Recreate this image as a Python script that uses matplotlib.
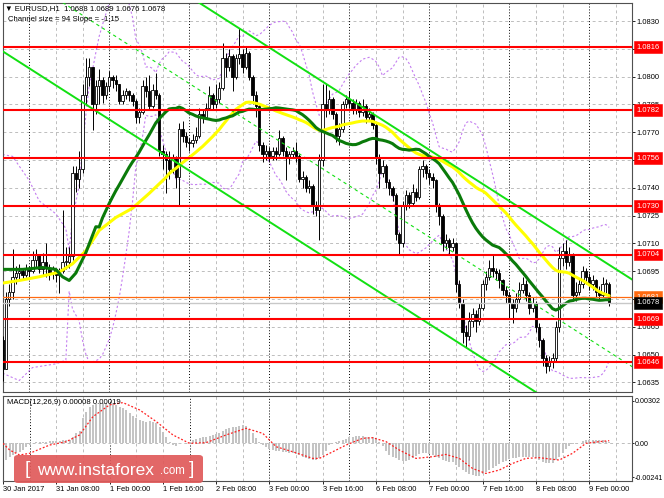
import numpy as np
import pandas as pd
import matplotlib
matplotlib.use("Agg")
import matplotlib.pyplot as plt
import matplotlib.transforms as mtransforms
from matplotlib.patches import FancyBboxPatch

plt.rcParams["font.family"] = ["Liberation Sans", "DejaVu Sans"]

W, H = 664, 498

# EURUSD H1 candles, prices stored as pips above 1.0600
BASE = 1.0600
PIP = 0.0001

first_open = 58
closes = [42, 80, 84, 92, 94, 95, 93, 96, 95, 101,
          104, 96, 100, 97, 94, 96, 93, 95, 100, 100,
          103, 148, 145, 150, 190, 200, 205, 185, 195, 198,
          190, 195, 200, 198, 196, 187, 190, 192, 190, 187,
          178, 181, 195, 192, 184, 193, 190, 160, 158, 155,
          150, 156, 146, 172, 168, 165, 164, 166, 168, 180,
          178, 183, 190, 185, 188, 194, 210, 205, 211, 200,
          210, 212, 205, 213, 200, 190, 184, 163, 158, 160,
          157, 160, 158, 167, 160, 156, 158, 160, 157, 145,
          146, 140, 141, 130, 128, 155, 185, 182, 188, 180,
          168, 172, 185, 188, 186, 182, 186, 181, 184, 178,
          180, 174, 156, 148, 152, 143, 140, 136, 115, 110,
          130, 136, 132, 138, 135, 150, 152, 148, 146, 144,
          130, 125, 110, 112, 108, 110, 88, 78, 62, 60,
          68, 72, 68, 75, 88, 92, 97, 95, 94, 90,
          85, 82, 78, 75, 80, 85, 88, 82, 75, 78,
          65, 58, 48, 44, 46, 48, 65, 102, 106, 100,
          104, 82, 84, 88, 95, 92, 88, 90, 84, 82,
          88, 88, 78]
highs = [60, 84, 88, 107, 98, 99, 97, 99, 98, 106,
         107, 104, 105, 110, 99, 98, 97, 97, 128, 108,
         108, 152, 152, 160, 196, 210, 210, 205, 198, 204,
         200, 197, 203, 201, 201, 196, 193, 194, 193, 191,
         188, 183, 198, 200, 201, 196, 202, 191, 163, 160,
         160, 158, 157, 175, 176, 170, 167, 169, 173, 183,
         182, 186, 195, 191, 196, 197, 218, 213, 215, 212,
         212, 226, 215, 216, 214, 201, 192, 185, 165, 163,
         162, 162, 162, 171, 168, 162, 160, 162, 165, 158,
         149, 147, 144, 142, 133, 158, 196, 196, 193, 189,
         181, 175, 187, 190, 192, 188, 188, 187, 188, 185,
         183, 181, 175, 158, 155, 153, 145, 141, 137, 116,
         133, 139, 138, 142, 140, 152, 155, 153, 150, 148,
         145, 132, 126, 115, 113, 113, 111, 90, 80, 66,
         73, 75, 74, 78, 90, 95, 101, 104, 97, 96,
         91, 87, 84, 80, 83, 89, 92, 90, 84, 81,
         79, 67, 59, 50, 49, 51, 68, 108, 110, 112,
         108, 105, 89, 91, 98, 97, 94, 93, 91, 87,
         92, 91, 89]
lows = [36, 42, 76, 80, 88, 90, 90, 92, 91, 94,
        97, 94, 93, 92, 90, 91, 89, 83, 94, 96,
        97, 101, 138, 140, 148, 185, 195, 171, 180, 185,
        186, 188, 192, 194, 192, 185, 185, 188, 187, 184,
        175, 175, 180, 189, 182, 183, 188, 157, 150, 137,
        145, 148, 140, 130, 165, 162, 160, 162, 164, 167,
        175, 177, 182, 182, 183, 186, 193, 200, 203, 192,
        199, 207, 202, 204, 198, 185, 178, 160, 154, 155,
        154, 155, 155, 157, 157, 144, 153, 156, 154, 143,
        140, 138, 137, 126, 125, 112, 152, 178, 180, 177,
        165, 163, 170, 183, 183, 180, 180, 178, 179, 175,
        176, 172, 153, 140, 146, 140, 136, 133, 112, 104,
        108, 128, 129, 130, 133, 134, 146, 145, 142, 140,
        127, 120, 106, 107, 104, 106, 84, 75, 56, 54,
        58, 65, 62, 66, 74, 85, 90, 92, 90, 86,
        82, 78, 70, 67, 73, 78, 83, 79, 72, 73,
        62, 54, 44, 40, 41, 43, 46, 62, 98, 96,
        98, 79, 79, 82, 86, 88, 85, 85, 81, 80,
        81, 83, 76]

# MACD(12,26,9) main line, units of 0.00001
macd_main = [-119, -119, -95, -83, -71, -60, -48, -29, -12, 5,
             8, 10, 12, 12, 14, 14, 17, 19, 21, 24,
             26, 48, 76, 90, 178, 226, 262, 274, 281, 286,
             286, 286, 286, 281, 274, 262, 250, 238, 214, 195,
             178, 167, 160, 155, 162, 155, 143, 119, 83, 48,
             12, -12, -19, -5, 2, 5, 12, 24, 29, 36,
             43, 48, 55, 60, 67, 76, 90, 100, 107, 114,
             119, 126, 131, 124, 100, 71, 36, 12, -12, -29,
             -43, -48, -52, -52, -60, -64, -67, -71, -79, -86,
             -95, -102, -112, -119, -119, -107, -83, -55, -12, 5,
             12, 19, 24, 29, 43, 48, 52, 52, 52, 48,
             48, 43, 36, 12, -19, -52, -83, -95, -107, -119,
             -124, -126, -119, -107, -90, -79, -71, -71, -76, -83,
             -95, -107, -119, -126, -131, -136, -155, -171, -190, -207,
             -219, -228, -233, -231, -219, -207, -190, -174, -162, -148,
             -133, -124, -114, -107, -102, -98, -95, -95, -95, -98,
             -107, -119, -131, -138, -143, -138, -119, -95, -67, -43,
             -19, -7, 0, 5, 19, 24, 24, 26, 24, 24,
             21, 19, 8]
signal_bars = [0, 2, 5, 8, 14, 19, 23, 27, 32, 36,
               41, 46, 51, 56, 61, 67, 73, 78, 82, 87,
               93, 95, 99, 103, 108, 111, 115, 119, 124, 129,
               133, 137, 141, 145, 149, 153, 157, 161, 167, 171,
               175, 179, 182]
signal_vals = [0, -48, -83, -71, -12, 12, 60, 190, 274, 290,
               238, 155, 60, 0, 5, 60, 107, 71, -24, -60,
               -107, -107, -60, -12, 36, 40, 12, -48, -107, -95,
               -79, -107, -179, -214, -190, -143, -107, -102, -119, -71,
               0, 12, 19]

# start of the indicator lines (history before the window)
sma30_head_bars = [0, 6, 12, 16, 18, 20, 22, 25, 28]
sma30_head_vals = [96, 96, 97, 96, 92, 90, 94, 105, 119]
sma50_head_bars = [0, 5, 11, 17, 21, 25, 29, 34, 39, 44]
sma50_head_vals = [88.6, 90, 92, 94.5, 99, 106, 117, 124, 129, 137]
bb_up_head_bars = [0, 3, 8, 11, 16, 19]
bb_up_head_vals = [158, 157, 144, 133, 126, 118]
bb_lo_head_bars = [0, 5, 9, 16, 19]
bb_lo_head_vals = [40, 36, 43, 45, 47]

levels = [1.0816, 1.0782, 1.0756, 1.0730, 1.0704, 1.0669, 1.0646]
orange_level = 1.0681
bid_price = 1.0678

channel_size = 94
channel_slope = -1.15
channel_mid_bar = 95.25
channel_mid = 151.2

tick_bars = [0, 16, 32, 48, 64, 80, 96, 112, 128, 144, 160, 176]
tick_labels = ["30 Jan 2017", "31 Jan 08:00", "1 Feb 00:00", "1 Feb 16:00",
               "2 Feb 08:00", "3 Feb 00:00", "3 Feb 16:00", "6 Feb 08:00",
               "7 Feb 00:00", "7 Feb 16:00", "8 Feb 08:00", "9 Feb 00:00"]
midnight_bars = [8, 32, 56, 80, 104, 128, 152, 176]
price_ticks = [1.0635, 1.0650, 1.0665, 1.0680, 1.0695, 1.0710, 1.0725,
               1.0740, 1.0755, 1.0770, 1.0785, 1.0800, 1.0815, 1.0830]
macd_ticks = [-0.00241, 0.0, 0.00302]
macd_tick_labels = ["-0.00241", "0.00", "0.00302"]


def pr(p):
    return BASE + np.asarray(p, dtype=float) * PIP


def fx(px):
    return px / W


def fy(py):
    return 1 - py / H


n = len(closes)
x = np.arange(n)
c = np.array(closes, dtype=float)
o = np.r_[first_open, c[:-1]]
hi = np.maximum(np.array(highs, dtype=float), np.maximum(o, c))
lo = np.minimum(np.array(lows, dtype=float), np.minimum(o, c))

s = pd.Series(c)
sma30 = s.rolling(30).mean()
sma50 = s.rolling(50).mean()
mid20 = s.rolling(20).mean()
sd20 = s.rolling(20).std(ddof=0)
bb_up = mid20 + 2 * sd20
bb_lo = mid20 - 2 * sd20

fig = plt.figure(figsize=(W / 100, H / 100), dpi=100)
fig.patch.set_facecolor("white")
ax = fig.add_axes([fx(3), fy(392), (632 - 3) / W, (392 - 3) / H])
ax2 = fig.add_axes([fx(3), fy(481), (632 - 3) / W, (481 - 396) / H])

xmin, xmax = 0.15, 188.85
for a in (ax, ax2):
    a.set_xlim(xmin, xmax)
    a.set_facecolor("white")
    for sp in a.spines.values():
        sp.set_color("#505050")
        sp.set_linewidth(0.8)
    for b in range(0, 192, 8):
        if b in midnight_bars:
            a.axvline(b, color="black", lw=0.7, ls=(0, (1, 2)), zorder=1)
        else:
            a.axvline(b, color="#bdbdbd", lw=0.7, ls=(0, (3, 3)), zorder=1)

# ---- main price panel
ax.set_ylim(1.062982, 1.083975)
ax.set_yticks(price_ticks)
ax.set_yticklabels([f"{t:.4f}" for t in price_ticks])
ax.yaxis.tick_right()
ax.tick_params(axis="y", labelsize=5.4, length=2.5, pad=1, width=0.6)
ax.set_xticks([])
ax.set_axisbelow(True)
ax.grid(axis="y", color="#bdbdbd", lw=0.7, ls=(0, (3, 3)))

# bollinger bands
bb_col = "#c47ef0"
ax.plot(bb_up_head_bars + list(range(20, n)), pr(bb_up_head_vals + list(bb_up[20:])),
        color=bb_col, lw=0.8, ls=(0, (2, 2)), zorder=2)
ax.plot(bb_lo_head_bars + list(range(20, n)), pr(bb_lo_head_vals + list(bb_lo[20:])),
        color=bb_col, lw=0.8, ls=(0, (2, 2)), zorder=2)

# candles
up = c >= o
ax.vlines(x, pr(lo), pr(hi), color="black", lw=0.7, zorder=3)
body_lo = np.minimum(o, c)
body_h = np.maximum(np.abs(c - o), 0.5) * PIP
ax.bar(x[up], body_h[up], bottom=pr(body_lo[up]), width=0.62,
       facecolor="white", edgecolor="black", lw=0.6, zorder=3.5)
ax.bar(x[~up], body_h[~up], bottom=pr(body_lo[~up]), width=0.62,
       facecolor="black", edgecolor="black", lw=0.6, zorder=3.5)

# moving averages
ax.plot(sma50_head_bars + list(range(49, n)), pr(sma50_head_vals + list(sma50[49:])),
        color="#ffff00", lw=2.2, zorder=4, solid_capstyle="round")
ax.plot(sma30_head_bars + list(range(29, n)), pr(sma30_head_vals + list(sma30[29:])),
        color="#0a7a0a", lw=2.2, zorder=4.2, solid_capstyle="round")

# regression channel
cb = np.array([-5.0, 195.0])
cmid = channel_mid + channel_slope * (cb - channel_mid_bar)
half = channel_size / 2
ax.plot(cb, pr(cmid + half), color="#12e012", lw=1.4, zorder=4.5)
ax.plot(cb, pr(cmid - half), color="#12e012", lw=1.4, zorder=4.5)
ax.plot(cb, pr(cmid), color="#12e012", lw=0.8, ls=(0, (3, 3)), zorder=4.5)

# horizontal levels
for lv in levels:
    ax.axhline(lv, color="#ff0000", lw=1.5, zorder=5)
ax.axhline(orange_level, color="#ff6a10", lw=0.9, zorder=5)
ax.axhline(bid_price, color="#c8c8c8", lw=1.0, zorder=4.8)

trans = mtransforms.blended_transform_factory(ax.transAxes, ax.transData)
for lv in levels:
    ax.text(1.0075, lv, f"{lv:.4f}", transform=trans, ha="left", va="center",
            fontsize=5.4, color="white", clip_on=False, zorder=10,
            bbox=dict(boxstyle="square,pad=0.32", fc="#ff0000", ec="#ff0000", lw=0.4))
ax.text(1.0075, orange_level, f"{orange_level:.4f}", transform=trans, ha="left",
        va="center", fontsize=5.4, color="white", clip_on=False, zorder=10,
        bbox=dict(boxstyle="square,pad=0.32", fc="#ff6a10", ec="#ff6a10", lw=0.4))
ax.text(1.0075, bid_price, f"{bid_price:.4f}", transform=trans, ha="left",
        va="center", fontsize=5.4, color="white", clip_on=False, zorder=11,
        bbox=dict(boxstyle="square,pad=0.32", fc="black", ec="black", lw=0.4))

fig.text(fx(5), fy(8.5), "\u25bc EURUSD,H1  1.0688 1.0689 1.0676 1.0678",
         fontsize=5.6, va="center", ha="left")
fig.text(fx(8), fy(19.5), "Channel size = 94 Slope = -1.15",
         fontsize=5.6, va="center", ha="left")

# ---- MACD panel
macd = np.array(macd_main, dtype=float) * 1e-5
ax2.set_ylim(-0.00268, 0.00337)
ax2.axhline(0, color="#bdbdbd", lw=0.7, ls=(0, (3, 3)), zorder=1)
ax2.bar(x, macd, width=0.6, color="#c4c4c4", zorder=2)
ax2.plot(signal_bars, np.array(signal_vals) * 1e-5, color="#ff2020", lw=0.9,
         ls=(0, (1.5, 1.5)), zorder=3)
ax2.set_yticks(macd_ticks)
ax2.set_yticklabels(macd_tick_labels)
ax2.yaxis.tick_right()
ax2.tick_params(axis="y", labelsize=5.1, length=1.5, pad=0.3, width=0.6)
ax2.set_xticks(tick_bars)
ax2.set_xticklabels(tick_labels)
ax2.tick_params(axis="x", labelsize=5.4, length=2.5, pad=1, width=0.6)
for lbl in ax2.get_xticklabels():
    lbl.set_horizontalalignment("left")
fig.text(fx(7), fy(403), "MACD(12,26,9) 0.00008 0.00019",
         fontsize=5.6, va="center", ha="left")

# ---- watermark
box = FancyBboxPatch((fx(14), fy(483)), 189 / W, 28 / H,
                     boxstyle="round,pad=0,rounding_size=0.006",
                     transform=fig.transFigure, fc="#e05a5a", ec="none",
                     alpha=0.92, zorder=5)
fig.add_artist(box)
fig.text(fx(25), fy(469.5), "[", fontsize=14, color="white", va="center",
         ha="left", zorder=6, fontweight="light")
fig.text(fx(37), fy(470), "www.instaforex", fontsize=12.5, color="white",
         va="center", ha="left", zorder=6)
fig.text(fx(160), fy(471), ".com", fontsize=8.3, color="white",
         va="center", ha="left", zorder=6)
fig.text(fx(189), fy(469.5), "]", fontsize=14, color="white", va="center",
         ha="left", zorder=6, fontweight="light")

fig.savefig("out.png", dpi=100)
